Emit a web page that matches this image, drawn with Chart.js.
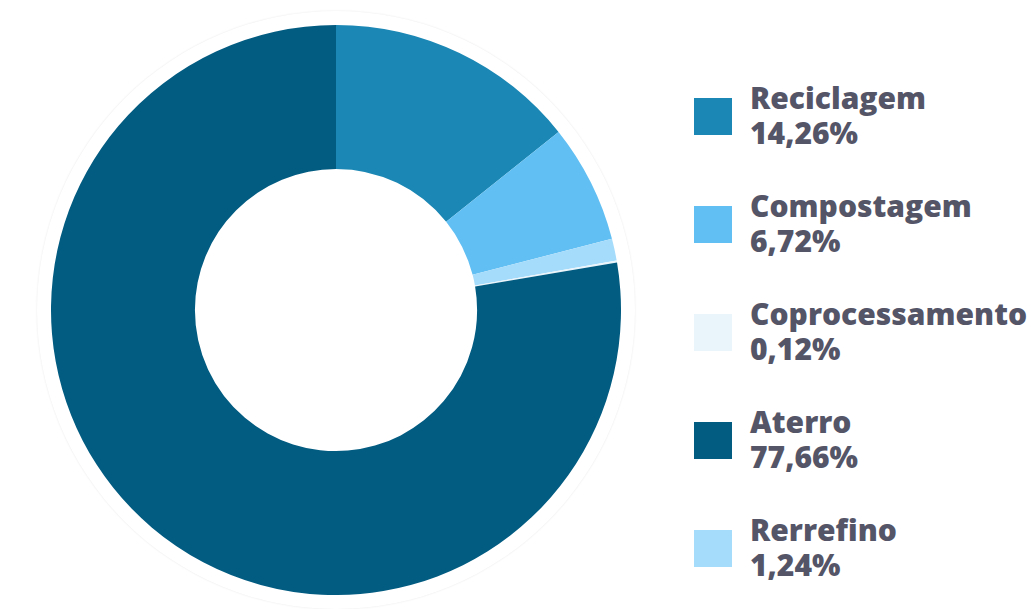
<!DOCTYPE html>
<html>
<head>
<meta charset="utf-8">
<script src="https://cdn.jsdelivr.net/npm/chart.js@4/dist/chart.umd.min.js"></script>
<style>
  html, body { margin: 0; padding: 0; background: #ffffff; }
  body { width: 1036px; height: 609px; position: relative; overflow: hidden; font-family: "Open Sans", Lato, sans-serif; }
  #ring { position: absolute; left: 37px; top: 11px; width: 598px; height: 598px; border-radius: 50%; box-shadow: 0 0 2px rgba(0,0,0,0.10); background: #fff; }
  #wrap { position: absolute; left: 51px; top: 25px; width: 570px; height: 570px; }
  #legend { position: absolute; left: 694px; top: 84px; }
  .item { position: relative; height: 108px; }
  .sw { position: absolute; left: 0; top: 14px; width: 38px; height: 37px; }
  .txt { position: absolute; left: 56px; top: -4px; color: #555568; font-weight: 800; font-size: 30px; line-height: 35px; white-space: nowrap; letter-spacing: 0px; }
</style>
</head>
<body>
<div id="ring"></div>
<div id="wrap"><canvas id="c"></canvas></div>
<div id="legend"></div>
<script>
// Pie order (clockwise from top)
const categories = ["Reciclagem", "Compostagem", "Rerrefino", "Coprocessamento", "Aterro"];
const values = [14.26, 6.72, 1.24, 0.12, 77.66];
const colors = ["#1a87b4", "#62bff3", "#a6dcfb", "#eaf4fb", "#025b81"];
// Legend order
const legendOrder = ["Reciclagem", "Compostagem", "Coprocessamento", "Aterro", "Rerrefino"];
const valueLabels = ["14,26%", "6,72%", "1,24%", "0,12%", "77,66%"];

new Chart(document.getElementById('c'), {
  type: 'doughnut',
  data: {
    labels: categories,
    datasets: [{
      data: values,
      backgroundColor: colors,
      borderWidth: 0
    }]
  },
  options: {
    responsive: true,
    maintainAspectRatio: false,
    animation: false,
    cutout: '49.5%',
    layout: { padding: 0 },
    plugins: { legend: { display: false }, tooltip: { enabled: false } }
  }
});

const leg = document.getElementById('legend');
legendOrder.forEach(name => {
  const i = categories.indexOf(name);
  const item = document.createElement('div');
  item.className = 'item';
  const sw = document.createElement('div');
  sw.className = 'sw';
  sw.style.background = colors[i];
  const t = document.createElement('div');
  t.className = 'txt';
  t.innerHTML = name + '<br>' + valueLabels[i];
  item.appendChild(sw);
  item.appendChild(t);
  leg.appendChild(item);
});
</script>
</body>
</html>
